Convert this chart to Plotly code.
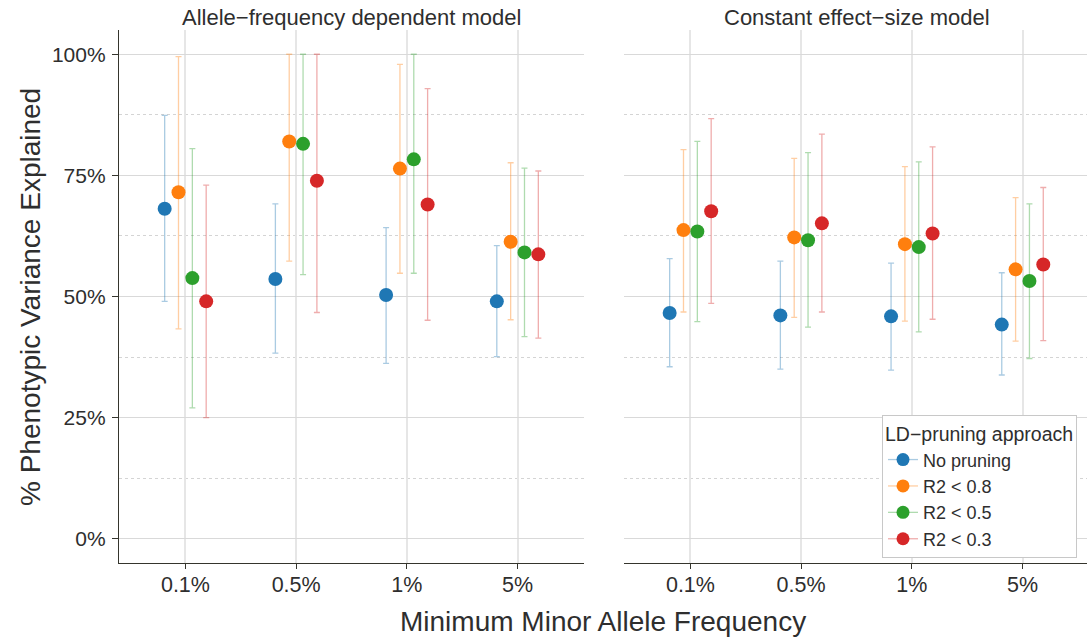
import plotly.graph_objects as go

# Minimum minor allele frequency thresholds (x categories)
maf_labels = ["0.1%", "0.5%", "1%", "5%"]

# LD-pruning approaches (series)
approaches = ["No pruning", "R2 < 0.8", "R2 < 0.5", "R2 < 0.3"]
colors = ["#1f77b4", "#ff7f0e", "#2ca02c", "#d62728"]
bar_colors = ["rgba(31,119,180,0.38)", "rgba(255,127,14,0.38)",
              "rgba(44,160,44,0.38)", "rgba(214,39,40,0.38)"]

# Allele-frequency dependent model: estimate, lower and upper bounds (%)
afd_no_pruning = [68.1, 53.6, 50.3, 49.0]
afd_no_pruning_lo = [49.0, 38.3, 36.2, 37.6]
afd_no_pruning_hi = [87.4, 69.1, 64.2, 60.5]

afd_r2_08 = [71.5, 82.0, 76.4, 61.3]
afd_r2_08_lo = [43.3, 57.3, 54.8, 45.2]
afd_r2_08_hi = [99.5, 100.0, 97.9, 77.6]

afd_r2_05 = [53.8, 81.5, 78.3, 59.1]
afd_r2_05_lo = [27.0, 54.5, 54.8, 41.7]
afd_r2_05_hi = [80.5, 100.0, 100.0, 76.5]

afd_r2_03 = [49.0, 73.9, 69.0, 58.7]
afd_r2_03_lo = [25.0, 46.7, 45.1, 41.4]
afd_r2_03_hi = [73.0, 100.0, 92.9, 75.9]

# Constant effect-size model: estimate, lower and upper bounds (%)
ces_no_pruning = [46.6, 46.1, 45.9, 44.2]
ces_no_pruning_lo = [35.5, 35.0, 34.8, 33.8]
ces_no_pruning_hi = [57.8, 57.3, 56.9, 54.9]

ces_r2_08 = [63.7, 62.2, 60.8, 55.6]
ces_r2_08_lo = [46.8, 45.7, 44.9, 40.8]
ces_r2_08_hi = [80.3, 78.5, 76.8, 70.4]

ces_r2_05 = [63.4, 61.6, 60.2, 53.2]
ces_r2_05_lo = [44.8, 43.7, 42.7, 37.2]
ces_r2_05_hi = [82.0, 79.7, 77.8, 69.1]

ces_r2_03 = [67.6, 65.1, 63.0, 56.6]
ces_r2_03_lo = [48.6, 46.8, 45.3, 40.9]
ces_r2_03_hi = [86.7, 83.5, 80.9, 72.5]

panels = [
    ("x", "y", [
        (afd_no_pruning, afd_no_pruning_lo, afd_no_pruning_hi),
        (afd_r2_08, afd_r2_08_lo, afd_r2_08_hi),
        (afd_r2_05, afd_r2_05_lo, afd_r2_05_hi),
        (afd_r2_03, afd_r2_03_lo, afd_r2_03_hi),
    ]),
    ("x2", "y2", [
        (ces_no_pruning, ces_no_pruning_lo, ces_no_pruning_hi),
        (ces_r2_08, ces_r2_08_lo, ces_r2_08_hi),
        (ces_r2_05, ces_r2_05_lo, ces_r2_05_hi),
        (ces_r2_03, ces_r2_03_lo, ces_r2_03_hi),
    ]),
]

# position dodge: 4 groups spread over 0.5 of a category
dodge = [-0.1875, -0.0625, 0.0625, 0.1875]

FONT = "Liberation Sans, Arial, sans-serif"
TXT = "#2e2e2e"
AXIS = "#35352d"

fig = go.Figure()

for xa, ya, series in panels:
    for k, (est, lo, hi) in enumerate(series):
        xs = [i + dodge[k] for i in range(len(maf_labels))]
        fig.add_trace(go.Scatter(
            x=xs, y=est, xaxis=xa, yaxis=ya, mode="markers",
            marker=dict(color=colors[k], size=14, line=dict(width=0)),
            error_y=dict(type="data", symmetric=False,
                         array=[h - e for h, e in zip(hi, est)],
                         arrayminus=[e - l for e, l in zip(est, lo)],
                         color=bar_colors[k], thickness=1.3, width=3),
            showlegend=False, hoverinfo="skip",
        ))

# legend keys (point + line, like a pointrange key)
for k, name in enumerate(approaches):
    fig.add_trace(go.Scatter(
        x=[None], y=[None], xaxis="x", yaxis="y", mode="lines+markers",
        name=name, line=dict(color=bar_colors[k], width=1.3),
        marker=dict(color=colors[k], size=13),
    ))

W, H = 1087, 639
px_x = lambda p: p / W
px_y = lambda p: 1 - p / H

ydom = [px_y(563), px_y(30)]
grid_major = "#d9d9d9"
grid_minor = "#d4d4d4"

common_y = dict(
    range=[-5, 105], domain=ydom, tickvals=[0, 25, 50, 75, 100],
    showgrid=True, gridcolor=grid_major, gridwidth=1, zeroline=False,
    minor=dict(tickvals=[12.5, 37.5, 62.5, 87.5], showgrid=True,
               gridcolor=grid_minor, griddash="dot", gridwidth=1, ticklen=0),
)
common_x = dict(
    tickvals=list(range(len(maf_labels))), ticktext=maf_labels,
    showgrid=True, gridcolor="#e6e6e6", gridwidth=1.5, zeroline=False,
    showline=True, linecolor=AXIS, linewidth=1.4,
    ticks="outside", ticklen=5, tickcolor=AXIS, tickwidth=1.2,
    ticklabelstandoff=-3,
    tickfont=dict(size=21.5, color=TXT, family=FONT),
)

fig.update_layout(
    width=W, height=H,
    margin=dict(l=0, r=0, t=0, b=0),
    paper_bgcolor="white", plot_bgcolor="white",
    font=dict(family=FONT, color=TXT),
    xaxis=dict(domain=[px_x(119), px_x(584)], range=[-0.6, 3.6],
               anchor="y", **common_x),
    xaxis2=dict(domain=[px_x(624), 1.0], range=[-0.6, -0.6 + 463 / 110.7],
                anchor="y2", **common_x),
    yaxis=dict(anchor="x", ticktext=["0%", "25%", "50%", "75%", "100%"],
               showline=True, linecolor=AXIS, linewidth=1.4,
               ticks="outside", ticklen=6, tickcolor=AXIS, tickwidth=1.2,
               ticklabelstandoff=2,
               tickfont=dict(size=21, color=TXT, family=FONT), **common_y),
    yaxis2=dict(anchor="x2", showticklabels=False, showline=False, ticks="",
                **common_y),
    legend=dict(
        title=dict(text="LD\u2212pruning approach",
                   font=dict(size=19.5, color=TXT, family=FONT)),
        font=dict(size=18, color=TXT, family=FONT),
        x=px_x(1077), xanchor="right", y=px_y(415), yanchor="top",
        bgcolor="white", bordercolor="#c8c8c8", borderwidth=1,
        itemwidth=30, tracegroupgap=0,
    ),
    annotations=[
        dict(text="Allele\u2212frequency dependent model", x=px_x(351.5), y=px_y(18),
             xref="paper", yref="paper", xanchor="center", yanchor="middle",
             showarrow=False, font=dict(size=22, color=TXT, family=FONT)),
        dict(text="Constant effect\u2212size model", x=px_x(857), y=px_y(18),
             xref="paper", yref="paper", xanchor="center", yanchor="middle",
             showarrow=False, font=dict(size=22, color=TXT, family=FONT)),
        dict(text="Minimum Minor Allele Frequency", x=px_x(603), y=px_y(621),
             xref="paper", yref="paper", xanchor="center", yanchor="middle",
             showarrow=False, font=dict(size=28, color=TXT, family=FONT)),
        dict(text="% Phenotypic Variance Explained", x=px_x(30), y=px_y(297),
             xref="paper", yref="paper", xanchor="center", yanchor="middle",
             showarrow=False, textangle=-90,
             font=dict(size=28, color=TXT, family=FONT)),
    ],
)

fig.write_html("out.html")
